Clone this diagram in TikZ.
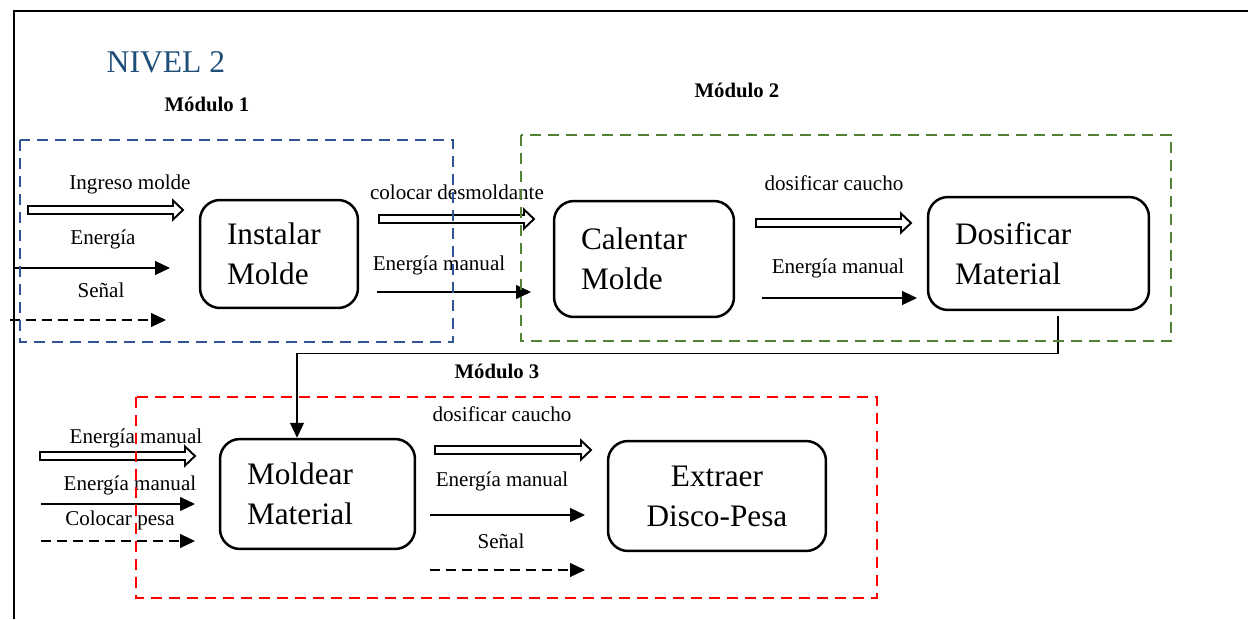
\documentclass[tikz,border=0pt]{standalone}
\usepackage{fontspec}
\setmainfont{Liberation Serif}
\usetikzlibrary{arrows.meta}
\definecolor{nivelblue}{RGB}{31,78,121}
\definecolor{modblue}{RGB}{47,85,151}
\definecolor{modgreen}{RGB}{84,130,53}
\definecolor{modred}{RGB}{255,0,0}

\begin{document}
\begin{tikzpicture}[x=0.02cm, y=-0.02cm,
  proc/.style={draw, line width=0.05cm, rounded corners=0.4cm, align=left, inner xsep=0.54cm, font=\fontsize{17.8}{22.7}\selectfont},
  lbl/.style={inner sep=0pt, font=\fontsize{12}{14}\selectfont},
  modlbl/.style={inner sep=0pt, font=\bfseries\fontsize{11.8}{14}\selectfont},
  flow/.style={line width=0.6pt, -{Triangle[length=0.3cm, width=0.28cm]}},
  sig/.style={flow, dash pattern=on 0.2cm off 0.12cm},
  feed/.style={draw, fill=white, line width=1.1pt, line join=miter,
    to path={([yshift=0.08cm]\tikztostart) -- ([xshift=-0.2cm, yshift=0.08cm]\tikztotarget)
      -- ([xshift=-0.2cm, yshift=0.19cm]\tikztotarget) -- (\tikztotarget)
      -- ([xshift=-0.2cm, yshift=-0.19cm]\tikztotarget) -- ([xshift=-0.2cm, yshift=-0.08cm]\tikztotarget)
      -- ([yshift=-0.08cm]\tikztostart) -- cycle}},
  grp/.style={line width=0.05cm, dash pattern=on 0.22cm off 0.14cm}]
	\useasboundingbox (0,0) rectangle (1248,619);
	\draw[line width=0.04cm] (1248,11) -- (14,11) -- (14,619);

	\node[text=nivelblue, inner sep=0pt, font=\fontsize{18}{20}\selectfont] (nivel) at (166,62) {NIVEL 2};
	\node[modlbl] (m1) at (207,104) {Módulo 1};
	\node[modlbl] (m2) at (737,90) {Módulo 2};
	\node[modlbl] (m3) at (497,371) {Módulo 3};

	% procesos
	\node[proc, text width=2.08cm, minimum height=2.16cm] (inst) at (279,254) {Instalar\\Molde};
	\node[proc, text width=2.52cm, minimum height=2.32cm] (cal) at (644,259) {Calentar\\Molde};
	\node[proc, text width=3.34cm, minimum height=2.26cm] (dos) at (1038.5,253.5) {Dosificar\\Material};
	\node[proc, text width=2.82cm, minimum height=2.2cm] (mold) at (317.5,494) {Moldear\\Material};
	\node[proc, text width=3.28cm, minimum height=2.2cm, align=center] (ext) at (717,496) {Extraer\\Disco-Pesa};

	% puntos de las flechas
	\coordinate (ing-a) at (28,210);   \coordinate (ing-b) at (183,210);
	\coordinate (en1-a) at (14,268);   \coordinate (en1-b) at (170,268);
	\coordinate (se1-a) at (10,320);   \coordinate (se1-b) at (166,320);
	\coordinate (des-a) at (379,219);  \coordinate (des-b) at (534,219);
	\coordinate (em2-a) at (377,292);  \coordinate (em2-b) at (531,292);
	\coordinate (dc2-a) at (756,223);  \coordinate (dc2-b) at (911,223);
	\coordinate (em3-a) at (762,298);  \coordinate (em3-b) at (917,298);
	\coordinate (em4-a) at (40,456);   \coordinate (em4-b) at (195,456);
	\coordinate (em5-a) at (41,504);   \coordinate (em5-b) at (195,504);
	\coordinate (cp-a) at (41,541);    \coordinate (cp-b) at (195,541);
	\coordinate (dc3-a) at (435,450);  \coordinate (dc3-b) at (591,450);
	\coordinate (em6-a) at (430,515);  \coordinate (em6-b) at (585,515);
	\coordinate (se3-a) at (430,570);  \coordinate (se3-b) at (585,570);

	% modulo 1
	\draw[feed] (ing-a) to (ing-b);
	\draw[flow] (en1-a) -- (en1-b);
	\draw[sig] (se1-a) -- (se1-b);
	\node[lbl] (l-ing) at (130,184) {Ingreso molde};
	\node[lbl] (l-en1) at (103,239) {Energía};
	\node[lbl] (l-se1) at (101,290) {Señal};

	% modulo 2
	\draw[feed] (des-a) to (des-b);
	\draw[flow] (em2-a) -- (em2-b);
	\draw[feed] (dc2-a) to (dc2-b);
	\draw[flow] (em3-a) -- (em3-b);
	\node[lbl] (l-des) at (457,192) {colocar desmoldante};
	\node[lbl] (l-em2) at (439,265) {Energía manual};
	\node[lbl] (l-dc2) at (834,183) {dosificar caucho};
	\node[lbl] (l-em3) at (838,268) {Energía manual};

	% modulo 3
	\draw[feed] (em4-a) to (em4-b);
	\draw[flow] (em5-a) -- (em5-b);
	\draw[sig] (cp-a) -- (cp-b);
	\draw[feed] (dc3-a) to (dc3-b);
	\draw[flow] (em6-a) -- (em6-b);
	\draw[sig] (se3-a) -- (se3-b);
	\node[lbl] (l-em4) at (136,438) {Energía manual};
	\node[lbl] (l-em5) at (130,485) {Energía manual};
	\node[lbl] (l-cp) at (120,520) {Colocar pesa};
	\node[lbl] (l-dc3) at (502,414) {dosificar caucho};
	\node[lbl] (l-em6) at (502,481) {Energía manual};
	\node[lbl] (l-se3) at (501,541) {Señal};

	% enlace modulo 2 -> modulo 3
	\draw[flow, line width=0.7pt] ([xshift=0.39cm, yshift=-0.1cm]dos.south) -- ++(0,-0.74cm) -| ([xshift=-0.41cm]mold.north);

	% modulos
	\draw[grp, modblue] (20,140) rectangle (453,342);
	\draw[grp, modgreen] (521,135) rectangle (1171,341);
	\draw[grp, modred] (136,397) rectangle (877,598);
\end{tikzpicture}
\end{document}
